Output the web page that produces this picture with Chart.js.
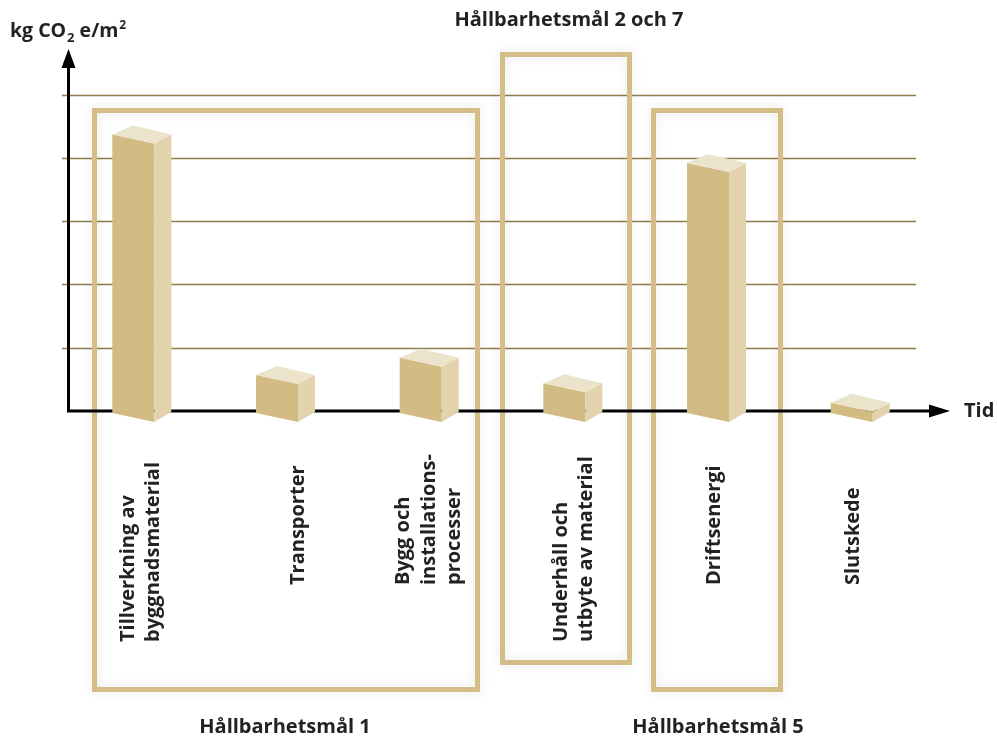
<!DOCTYPE html>
<html>
<head>
<meta charset="utf-8">
<script src="https://cdn.jsdelivr.net/npm/chart.js@4"></script>
<style>
html, body { margin: 0; padding: 0; background: #fff; }
</style>
</head>
<body>
<canvas id="chart" width="997" height="739"></canvas>
<script>
// data
var categories = [
  ["Tillverkning av", "byggnadsmaterial"],
  ["Transporter"],
  ["Bygg och", "installations-", "processer"],
  ["Underhåll och", "utbyte av material"],
  ["Driftsenergi"],
  ["Slutskede"]
];
var values = [4.37, 0.57, 0.84, 0.44, 3.92, 0.13];
var gridValues = [1, 2, 3, 4, 5];
var groupTitles = ["Hållbarhetsmål 1", "Hållbarhetsmål 2 och 7", "Hållbarhetsmål 5"];
var xTitle = "Tid";

var FONT = "'Open Sans', 'Noto Sans', sans-serif";
var frontCol = "#d3bb84";
var sideCol = "#e2d3ad";
var topCol = "#ece3cb";
var boxCol = "#d4bd87";
var gridCol = "#8f7e4b";

var drawing = {
  id: 'drawing',
  beforeDatasetsDraw: function(chart) {
    var c = chart.ctx;
    var y = chart.scales.y;
    var base = y.getPixelForValue(0);
    c.save();
    // grid lines
    c.strokeStyle = gridCol;
    c.lineWidth = 1.5;
    gridValues.forEach(function(v) {
      var py = Math.round(y.getPixelForValue(v)) + 0.5;
      c.beginPath();
      c.moveTo(62, py);
      c.lineTo(916, py);
      c.stroke();
    });
    // group boxes
    c.strokeStyle = boxCol;
    c.lineWidth = 5;
    c.shadowColor = "rgba(0,0,0,0.10)";
    c.shadowBlur = 12;
    c.strokeRect(94.5, 110.5, 383, 579);
    c.strokeRect(502.5, 54.5, 127, 608);
    c.strokeRect(653.5, 110.5, 127, 579);
    c.shadowBlur = 0;
    c.shadowColor = "transparent";
    // axes
    c.strokeStyle = "#000";
    c.fillStyle = "#000";
    c.lineWidth = 3;
    c.beginPath();
    c.moveTo(68.5, base);
    c.lineTo(68.5, 66);
    c.moveTo(67, base);
    c.lineTo(932, base);
    c.stroke();
    c.beginPath();
    c.moveTo(68.5, 49);
    c.lineTo(61.5, 68);
    c.lineTo(75.5, 68);
    c.closePath();
    c.fill();
    c.beginPath();
    c.moveTo(950, base);
    c.lineTo(929, base - 6.5);
    c.lineTo(929, base + 6.5);
    c.closePath();
    c.fill();
    c.restore();
  },
  afterDatasetsDraw: function(chart) {
    var c = chart.ctx;
    var xs = chart.scales.x;
    var meta = chart.getDatasetMeta(0);
    c.save();
    // 3D boxes from bar elements
    meta.data.forEach(function(el) {
      var L = el.x - 29.5, T = el.y, B = el.base;
      var W = 42, D = 17, s = 9;
      c.fillStyle = frontCol;
      c.beginPath();
      c.moveTo(L, T); c.lineTo(L + W, T + s); c.lineTo(L + W, B + 11); c.lineTo(L, B + 2);
      c.closePath(); c.fill();
      c.fillStyle = sideCol;
      c.beginPath();
      c.moveTo(L + W, T + s); c.lineTo(L + W + D, T); c.lineTo(L + W + D, B + 1); c.lineTo(L + W, B + 11);
      c.closePath(); c.fill();
      c.fillStyle = topCol;
      c.beginPath();
      c.moveTo(L, T); c.lineTo(L + 21, T - 9); c.lineTo(L + W + D, T); c.lineTo(L + W, T + s);
      c.closePath(); c.fill();
    });
    // category labels, rotated
    var startY = [642, 585, 585, 642, 585, 585];
    var shift = [-2, 12, -1, 0, -3, -8];
    c.fillStyle = "#222";
    c.font = "bold 20px " + FONT;
    c.textBaseline = "middle";
    c.textAlign = "left";
    categories.forEach(function(lines, i) {
      var cx = xs.getPixelForValue(i) + shift[i];
      var lh = 25.5;
      var first = cx - (lines.length - 1) * lh / 2;
      lines.forEach(function(t, j) {
        c.save();
        c.translate(first + j * lh + 1, startY[i]);
        c.rotate(-Math.PI / 2);
        c.fillText(t, 0, 0);
        c.restore();
      });
    });
    // titles
    c.font = "bold 20px " + FONT;
    c.textAlign = "center";
    c.fillText(groupTitles[0], 285, 727);
    c.fillText(groupTitles[1], 569, 20);
    c.fillText(groupTitles[2], 718, 727);
    c.textAlign = "left";
    c.fillText(xTitle, 964, 411);
    // y axis title with sub/superscript
    var x = 10, by = 37;
    c.textBaseline = "alphabetic";
    c.font = "bold 19.5px " + FONT;
    c.fillText("kg CO", x, by);
    x += c.measureText("kg CO").width + 1;
    c.font = "bold 13px " + FONT;
    c.fillText("2", x, by + 5);
    x += c.measureText("2").width;
    c.font = "bold 19.5px " + FONT;
    c.fillText(" e/m", x, by);
    x += c.measureText(" e/m").width + 1;
    c.font = "bold 12px " + FONT;
    c.fillText("2", x, by - 8);
    c.restore();
  }
};

var ctx = document.getElementById("chart").getContext('2d');
var chart = new Chart(ctx, {
  type: 'bar',
  data: {
    labels: categories,
    datasets: [{
      label: 'kg CO2 e/m2',
      data: values,
      backgroundColor: "rgba(0,0,0,0)",
      barThickness: 59
    }]
  },
  options: {
    responsive: false,
    animation: false,
    layout: { padding: { left: 70, right: 65, top: 63, bottom: 328 } },
    plugins: { legend: { display: false }, tooltip: { enabled: false } },
    scales: {
      x: { display: false, grid: { display: false } },
      y: { display: false, min: 0, max: 5.5, grid: { display: false } }
    }
  },
  plugins: [drawing]
});
</script>
</body>
</html>
